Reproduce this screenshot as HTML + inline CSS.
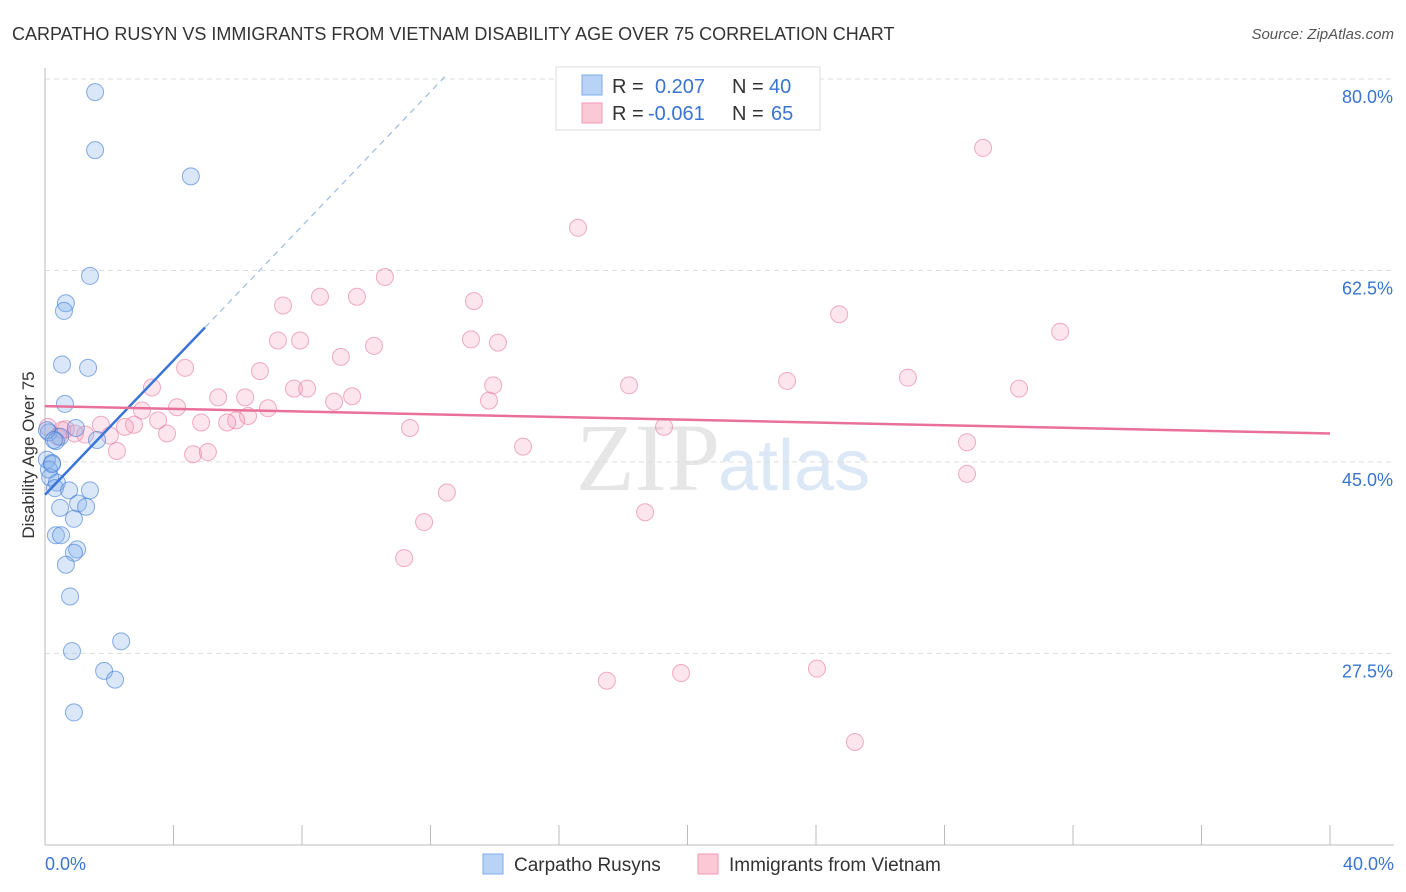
<!DOCTYPE html>
<html><head><meta charset="utf-8">
<style>
body{margin:0;background:#fff;font-family:"Liberation Sans",sans-serif;}
svg{display:block}
</style></head>
<body>
<svg id="chart" width="1406" height="892" xmlns="http://www.w3.org/2000/svg">
<text x="12" y="40" font-size="18" fill="#333">CARPATHO RUSYN VS IMMIGRANTS FROM VIETNAM DISABILITY AGE OVER 75 CORRELATION CHART</text>
<text x="1394" y="39" font-size="15" fill="#555" font-style="italic" text-anchor="end">Source: ZipAtlas.com</text>
<text x="720" y="490" font-size="96" fill="#e6e6e6" text-anchor="end" font-family="Liberation Serif,serif">ZIP</text>
<text x="718" y="490" font-size="72" fill="#dce8f6">atlas</text>
<g id="grid"></g>
<g id="axes"></g>
<g id="pts"></g>
<g id="lines"></g>
<text x="34" y="455" font-size="17" fill="#333" text-anchor="middle" transform="rotate(-90 34 455)">Disability Age Over 75</text>
<g>
<rect x="556" y="67" width="264" height="63" fill="#fff" stroke="#ddd"/>
<rect x="582" y="75" width="20" height="20" fill="#b8d3f5" stroke="#7eaee8"/>
<rect x="582" y="103" width="20" height="20" fill="#fbc8d6" stroke="#f09ab4"/>
<text x="612" y="93" font-size="20" fill="#333">R = </text><text x="655" y="93" font-size="20" fill="#3a74d0">0.207</text>
<text x="732" y="93" font-size="20" fill="#333">N = </text><text x="769" y="93" font-size="20" fill="#3a74d0">40</text>
<text x="612" y="120" font-size="20" fill="#333">R = </text><text x="648" y="120" font-size="20" fill="#3a74d0">-0.061</text>
<text x="732" y="120" font-size="20" fill="#333">N = </text><text x="771" y="120" font-size="20" fill="#3a74d0">65</text>
</g>
<g>
<rect x="483" y="854" width="20" height="20" fill="#b8d3f5" stroke="#7eaee8"/>
<text x="514" y="871" font-size="19" fill="#333">Carpatho Rusyns</text>
<rect x="698" y="854" width="20" height="20" fill="#fbc8d6" stroke="#f09ab4"/>
<text x="729" y="871" font-size="19" fill="#333">Immigrants from Vietnam</text>
</g>
</svg>
<script>
const yTicks=[80,62.5,45,27.5];
const xTickLabels=["0.0%","40.0%"];
const blueX=[1.56,1.56,4.54,1.40,0.65,0.59,0.53,1.34,0.62,0.12,0.47,0.96,1.62,0.34,0.06,0.22,0.16,0.37,0.31,0.75,1.40,1.03,1.28,0.47,0.90,0.34,0.50,1.00,0.90,0.65,0.78,2.37,0.84,1.84,2.18,0.90,0.06,0.28,0.12,0.22];
const blueY=[78.8,73.5,71.1,62.0,59.5,58.8,53.9,53.6,50.3,47.7,47.3,48.1,47.0,46.9,45.2,44.9,43.6,43.1,42.6,42.4,42.4,41.2,40.9,40.8,39.8,38.3,38.3,37.0,36.7,35.6,32.7,28.6,27.7,25.9,25.1,22.1,47.9,47.0,44.3,44.8];
const pinkX=[29.2,16.59,10.58,8.56,9.71,7.41,13.35,24.72,31.6,7.25,7.94,13.26,14.1,10.24,9.21,6.69,4.36,3.33,7.75,8.16,18.18,13.95,23.1,26.86,30.32,5.39,6.23,9.56,9.0,13.82,3.02,4.11,6.94,6.32,5.95,5.67,4.86,3.52,2.77,2.49,1.74,2.02,1.25,0.65,0.09,3.80,11.36,19.27,2.24,4.61,5.07,14.88,28.7,28.7,12.51,18.68,11.8,11.18,17.49,19.8,24.03,25.21,0.93,0.40,0.53];
const pinkY=[73.7,66.4,61.9,60.1,60.1,59.3,59.7,58.5,56.9,56.1,56.1,56.2,55.9,55.6,54.6,53.3,53.6,51.8,51.7,51.7,52.0,52.0,52.4,52.7,51.7,50.9,50.9,51.0,50.5,50.6,49.7,50.0,49.9,49.2,48.8,48.6,48.6,48.8,48.4,48.2,48.4,47.4,47.5,48.0,48.2,47.6,48.1,48.2,46.0,45.7,45.9,46.4,46.8,43.9,42.2,40.4,39.5,36.2,25.0,25.7,26.1,19.4,47.6,47.3,47.9];
const blueTrend=[42.0,3.07];   // intercept, slope per %
const pinkTrend=[50.1,-0.0625];

const NS="http://www.w3.org/2000/svg";
const X=v=>45+v*32.125;
const Y=v=>79+(80-v)*10.94;
function mk(tag,attrs,parent){const e=document.createElementNS(NS,tag);for(const k in attrs)e.setAttribute(k,attrs[k]);parent.appendChild(e);return e;}
const grid=document.getElementById('grid'),axes=document.getElementById('axes'),pts=document.getElementById('pts'),lines=document.getElementById('lines');
yTicks.forEach(t=>{
  const l=mk('line',{x1:45,x2:1394,y1:Y(t),y2:Y(t),stroke:'#ddd','stroke-dasharray':'5,4'},grid);
  
  
  const tx=mk('text',{x:1393,y:Y(t)+24,'font-size':18,fill:'#3a74d0','text-anchor':'end'},grid);
  tx.textContent=t.toFixed(1)+'%';
  
  
});
const ax=mk('line',{x1:45,x2:1394,y1:845,y2:845,stroke:'#bbb'},axes);


const ay=mk('line',{x1:45,x2:45,y1:68,y2:845,stroke:'#bbb'},axes);


for(let i=0;i<=10;i++){
  const tk=mk('line',{x1:X(i*4),x2:X(i*4),y1:825,y2:845,stroke:'#bbb'},axes);
  
  
}
[[0,'start',45],[40,'end',1394]].forEach((d,i)=>{
  const t=mk('text',{x:d[2],y:870,'font-size':18,fill:'#3a74d0','text-anchor':d[1]},axes);
  t.textContent=xTickLabels[i];
  
  
});
pinkX.forEach((v,i)=>{
  const c=mk('circle',{cx:X(v),cy:Y(pinkY[i]),r:8.5,fill:'rgba(244,150,180,0.25)',stroke:'rgba(230,120,160,0.6)','stroke-width':1},pts);
  
  
});
blueX.forEach((v,i)=>{
  const c=mk('circle',{cx:X(v),cy:Y(blueY[i]),r:8.5,fill:'rgba(130,175,235,0.3)',stroke:'rgba(60,120,210,0.6)','stroke-width':1},pts);
  
  
});
const bEnd=4.98, bTop=(80.2-blueTrend[0])/blueTrend[1];
const b1=mk('line',{x1:X(0),y1:Y(blueTrend[0]),x2:X(bEnd),y2:Y(blueTrend[0]+blueTrend[1]*bEnd),stroke:'#3a74d8','stroke-width':2.5},lines);


const b2=mk('line',{x1:X(bEnd),y1:Y(blueTrend[0]+blueTrend[1]*bEnd),x2:X(bTop),y2:Y(blueTrend[0]+blueTrend[1]*bTop),stroke:'#9bbbe6','stroke-width':1.2,'stroke-dasharray':'6,5'},lines);


const p1=mk('line',{x1:X(0),y1:Y(pinkTrend[0]),x2:X(40),y2:Y(pinkTrend[0]+pinkTrend[1]*40),stroke:'#e8709a','stroke-width':2.5},lines);


</script>
</body></html>
